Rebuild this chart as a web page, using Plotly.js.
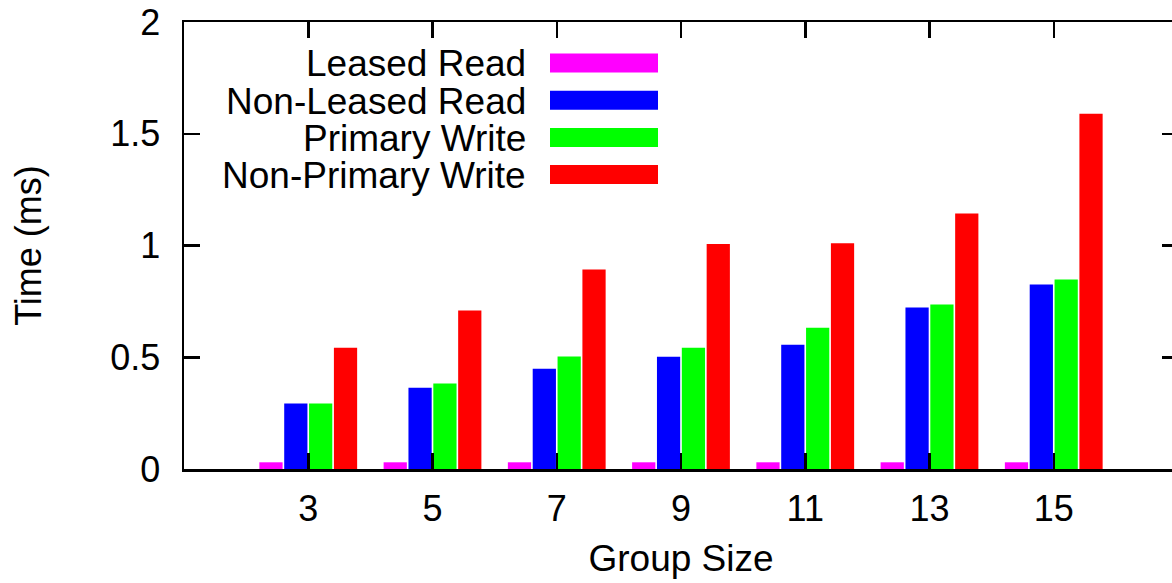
<!DOCTYPE html>
<html>
<head>
<meta charset="utf-8">
<script src="https://cdn.plot.ly/plotly-3.0.1.min.js"></script>
<style>
  html, body { margin: 0; padding: 0; background: #ffffff; overflow: hidden; }
  #chart { width: 1190px; height: 583px; }
</style>
</head>
<body>
<div id="chart"></div>
<script>
// Group sizes on the x axis
const groupSizes = [3, 5, 7, 9, 11, 13, 15];

// Latency per operation type (ms)
const leasedRead      = [0.03, 0.03, 0.03, 0.03, 0.03, 0.03, 0.03];
const nonLeasedRead   = [0.293, 0.363, 0.449, 0.502, 0.556, 0.723, 0.825];
const primaryWrite    = [0.293, 0.382, 0.503, 0.543, 0.632, 0.736, 0.848];
const nonPrimaryWrite = [0.543, 0.709, 0.893, 1.007, 1.010, 1.143, 1.590];

const seriesNames  = ['Leased Read', 'Non-Leased Read', 'Primary Write', 'Non-Primary Write'];
const seriesValues = [leasedRead, nonLeasedRead, primaryWrite, nonPrimaryWrite];
const seriesColors = ['#ff00ff', '#0000ff', '#00ff00', '#ff0000'];

const yTicks = [0, 0.5, 1, 1.5, 2];
const yTickText = ['0', '0.5', '1', '1.5', '2'];

// Figure geometry (pixels)
const FIG_W = 1190, FIG_H = 583;
const M = { l: 184, r: 12, t: 22, b: 114 };
const PW = FIG_W - M.l - M.r, PH = FIG_H - M.t - M.b;
const px2paperX = px => (px - M.l) / PW;
const px2paperY = py => 1 - (py - M.t) / PH;

const FONT = 'Liberation Sans, Arial, Helvetica, sans-serif';
const FS = 36;

const traces = seriesNames.map((name, i) => ({
  type: 'bar',
  name: name,
  x: groupSizes,
  y: seriesValues[i],
  marker: { color: seriesColors[i], line: { width: 0 } },
  hoverinfo: 'x+y+name'
}));

// Key: right-aligned labels followed by colour swatches
const keyTextRight = 528, keyBoxL = 550, keyBoxR = 658, keyBoxH = 19;
const keyRowY0 = 63, keyRowStep = 37.2;
const annotations = [];
const shapes = [];
seriesNames.forEach((name, i) => {
  const cy = keyRowY0 + i * keyRowStep;
  annotations.push({
    xref: 'paper', yref: 'paper',
    x: px2paperX(keyTextRight), y: px2paperY(cy + 1),
    xanchor: 'right', yanchor: 'middle',
    text: name, showarrow: false,
    font: { family: FONT, size: FS + 1, color: '#000000' }
  });
  shapes.push({
    type: 'rect', xref: 'paper', yref: 'paper',
    x0: px2paperX(keyBoxL), x1: px2paperX(keyBoxR),
    y0: px2paperY(cy - keyBoxH / 2), y1: px2paperY(cy + keyBoxH / 2),
    fillcolor: seriesColors[i], line: { width: 0 }
  });
});

const layout = {
  width: FIG_W, height: FIG_H,
  margin: M,
  paper_bgcolor: '#ffffff', plot_bgcolor: '#ffffff',
  showlegend: false,
  barmode: 'group',
  bargap: 0.2,
  bargroupgap: 0.065,
  font: { family: FONT, size: FS, color: '#000000' },
  xaxis: {
    range: [1, 17],
    tickvals: groupSizes,
    ticktext: groupSizes.map(String),
    ticks: 'inside', ticklen: 16, tickwidth: 2.5, tickcolor: '#000000',
    showline: true, linewidth: 2.5, linecolor: '#000000', mirror: 'ticks',
    showgrid: false, zeroline: false,
    tickfont: { family: FONT, size: FS },
    ticklabelstandoff: 6,
    title: { text: 'Group Size', font: { family: FONT, size: FS + 1 }, standoff: 18 }
  },
  yaxis: {
    range: [0, 2],
    tickvals: yTicks,
    ticktext: yTickText,
    ticks: 'inside', ticklen: 16, tickwidth: 2.5, tickcolor: '#000000',
    showline: true, linewidth: 2.5, linecolor: '#000000', mirror: 'ticks',
    showgrid: false, zeroline: false,
    tickfont: { family: FONT, size: FS },
    ticklabelstandoff: 14,
    title: { text: 'Time (ms)', font: { family: FONT, size: FS }, standoff: 58 }
  },
  annotations: annotations,
  shapes: shapes
};

Plotly.newPlot('chart', traces, layout, { displayModeBar: false, staticPlot: true });
</script>
</body>
</html>
